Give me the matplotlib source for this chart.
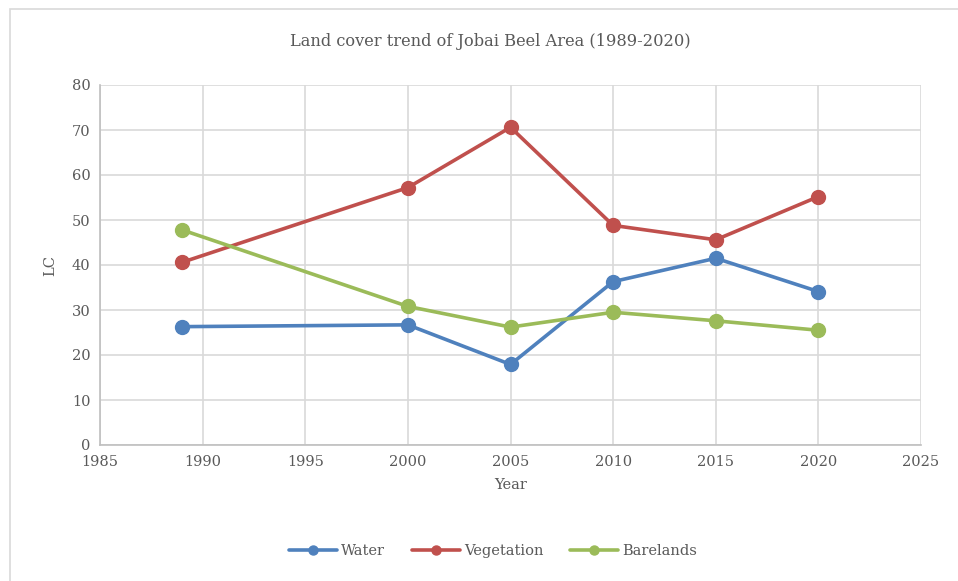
import matplotlib.pyplot as plt
from matplotlib.patches import Rectangle

years = [1989, 2000, 2005, 2010, 2015, 2020]
water = [26.3, 26.7, 17.9, 36.3, 41.5, 34.1]
vegetation = [40.6, 57.2, 70.6, 48.8, 45.6, 55.2]
barelands = [47.8, 30.8, 26.2, 29.5, 27.6, 25.5]

plt.rcParams['font.family'] = ['DejaVu Serif']
txt = "#595959"
grid = "#d9d9d9"

fig = plt.figure(figsize=(9.58, 5.81), dpi=100)
ax = fig.add_axes([100/958, 1-445/581, 821/958, 360/581])

# chart frame (Excel-style border)
fig.patches.append(Rectangle((10/958, -0.05), 1.2, 1-9/581+0.05, transform=fig.transFigure,
                             fill=False, edgecolor="#d9d9d9", linewidth=1.2))

for vals, col, name in [(water, "#4F81BD", "Water"),
                        (vegetation, "#C0504D", "Vegetation"),
                        (barelands, "#9BBB59", "Barelands")]:
    ax.plot(years, vals, color=col, lw=2.6, marker="o", ms=10, label=name,
            solid_capstyle="round", zorder=3)

ax.set_xlim(1985, 2025)
ax.set_ylim(0, 80)
ax.set_xticks(range(1985, 2026, 5))
ax.set_yticks(range(0, 81, 10))
ax.grid(True, color=grid, lw=1.2)
ax.set_axisbelow(True)
for s in ["top", "right"]:
    ax.spines[s].set_visible(False)
for s in ["left", "bottom"]:
    ax.spines[s].set_color("#bfbfbf")
    ax.spines[s].set_linewidth(1.2)
ax.tick_params(length=0, colors=txt, labelsize=10.5, pad=7)
ax.set_xlabel("Year", color=txt, fontsize=10.5, labelpad=7)
ax.set_ylabel("LC", color=txt, fontsize=10.5, labelpad=10)

fig.text(490/958, 1-42/581, "Land cover trend of Jobai Beel Area (1989-2020)",
         ha="center", va="center", color=txt, fontsize=11.7)

fig.legend(loc="center", bbox_to_anchor=(493/958, 1-551/581), ncol=3, frameon=False,
           fontsize=10.5, labelcolor=txt, handlelength=3.3, columnspacing=1.8,
           handletextpad=0.3, markerscale=0.65)

fig.savefig("out.png", dpi=100, facecolor="white")
